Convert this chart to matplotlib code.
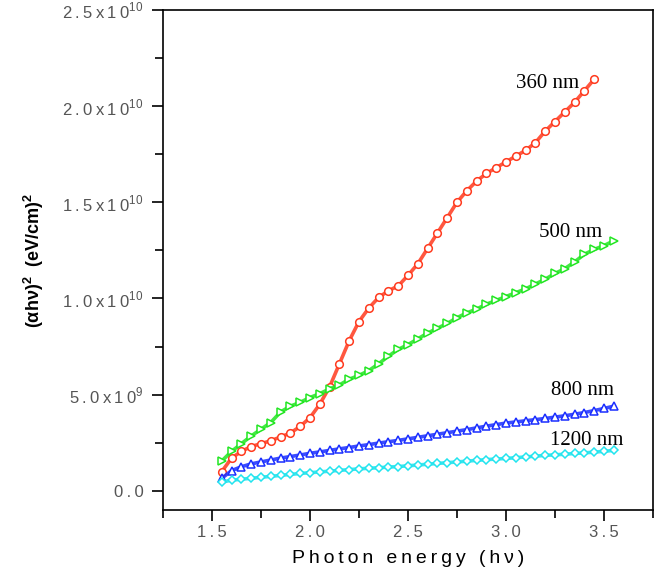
import numpy as np
import matplotlib
matplotlib.use("Agg")
import matplotlib.pyplot as plt
from matplotlib.ticker import MultipleLocator, FuncFormatter

plt.rcParams['font.family'] = ['Liberation Sans', 'DejaVu Sans']
plt.rcParams['mathtext.fontset'] = 'custom'
plt.rcParams['mathtext.rm'] = 'Liberation Sans'
plt.rcParams['mathtext.bf'] = 'Liberation Sans:bold'

# Photon energy grid (eV) and (alpha h nu)^2 in units of 1e9 (eV/cm)^2
energy = np.round(np.arange(1.55, 3.5501, 0.05), 2)

abs_360 = [1.0, 1.7, 2.05, 2.3, 2.45, 2.6, 2.8, 3.0, 3.35, 3.8,
           4.5, 5.4, 6.6, 7.8, 8.8, 9.5, 10.05, 10.4, 10.65, 11.2,
           11.8, 12.6, 13.4, 14.2, 15.0, 15.6, 16.1, 16.5, 16.8, 17.1,
           17.4, 17.7, 18.1, 18.7, 19.2, 19.7, 20.2, 20.8, 21.4]
abs_500 = [1.55, 2.05, 2.45, 2.85, 3.2, 3.55, 4.1, 4.4, 4.6, 4.85,
           5.05, 5.3, 5.5, 5.8, 6.0, 6.25, 6.6, 7.0, 7.35, 7.6,
           7.9, 8.2, 8.45, 8.7, 9.0, 9.25, 9.45, 9.7, 9.9, 10.1,
           10.3, 10.5, 10.75, 11.0, 11.3, 11.55, 11.9, 12.3, 12.55, 12.75,
           13.0]
abs_800 = [0.65, 1.05, 1.25, 1.4, 1.5, 1.6, 1.7, 1.78, 1.86, 1.95,
           2.02, 2.1, 2.18, 2.25, 2.33, 2.4, 2.48, 2.55, 2.62, 2.7,
           2.78, 2.86, 2.94, 3.02, 3.1, 3.18, 3.27, 3.36, 3.44, 3.52,
           3.58, 3.64, 3.7, 3.76, 3.83, 3.9, 3.98, 4.07, 4.17, 4.28,
           4.4]
abs_1200 = [0.45, 0.55, 0.6, 0.65, 0.7, 0.75, 0.8, 0.85, 0.9, 0.94,
            0.98, 1.02, 1.06, 1.1, 1.14, 1.17, 1.2, 1.23, 1.26, 1.3,
            1.34, 1.38, 1.42, 1.46, 1.5, 1.54, 1.58, 1.62, 1.65, 1.68,
            1.72, 1.76, 1.8, 1.84, 1.87, 1.9, 1.94, 1.97, 2.01, 2.05,
            2.1]

labels = ['360 nm', '500 nm', '800 nm', '1200 nm']
series = [abs_360, abs_500, abs_800, abs_1200]
colors = ['#ff3a1e', '#22e622', '#1a2eff', '#22e4ee']
markers = ['o', '>', '^', 'D']
msizes = [5.5, 5.5, 5.5, 4.5]
label_pos = [(3.21, 20.95), (3.33, 13.2), (3.39, 5.0), (3.41, 2.39)]

fig = plt.figure(figsize=(6.62, 5.77), dpi=100)
ax = fig.add_axes([0.2462, 0.1161, 0.7402, 0.8666])

for ys, c, m, ms in zip(series, colors, markers, msizes):
    x = energy[:len(ys)]
    y = np.array(ys) * 1e9
    ax.plot(x, y, color=c, lw=2.6, alpha=0.85, solid_capstyle='round')
    ax.plot(x, y, ls='none', marker=m, ms=ms, mfc='white', mec=c, mew=1.1)

for lab, (lx, ly) in zip(labels, label_pos):
    ax.text(lx, ly * 1e9, lab, family='Liberation Serif', fontsize=15,
            ha='center', va='baseline')

ax.set_xlim(1.25, 3.75)
ax.set_ylim(-1.0e9, 2.5e10)
ax.xaxis.set_major_locator(MultipleLocator(0.5))
ax.xaxis.set_minor_locator(MultipleLocator(0.25))
ax.yaxis.set_major_locator(MultipleLocator(5e9))
ax.yaxis.set_minor_locator(MultipleLocator(2.5e9))

sp = '\u2009'


def xfmt(v, pos):
    return sp.join(f'{v:.1f}')


def yfmt(v, pos):
    if abs(v) < 1:
        return sp.join('0.0')
    e = int(np.floor(np.log10(abs(v)) + 1e-9))
    mant = v / 10 ** e
    return sp.join(f'{mant:.1f}') + sp + 'x' + sp + '1' + sp + '0' + rf'$^{{{e}}}$'


ax.xaxis.set_major_formatter(FuncFormatter(xfmt))
ax.yaxis.set_major_formatter(FuncFormatter(yfmt))

ax.tick_params(which='both', direction='out', top=False, right=False,
               width=1.2, labelcolor='#555555', labelsize=12)
ax.tick_params(which='major', length=8, pad=6)
ax.tick_params(axis='x', which='major', pad=3)
ax.tick_params(which='minor', length=6)
for s in ax.spines.values():
    s.set_linewidth(1.2)

ax.set_xlabel(sp.join('Photon energy (hν)'), fontsize=14, labelpad=7)
ax.set_ylabel(r'(αhν)$^{\mathbf{2}}$  (eV/cm)$^{\mathbf{2}}$',
              fontsize=13, fontweight='bold', labelpad=12)

fig.savefig('out.png', dpi=100)
